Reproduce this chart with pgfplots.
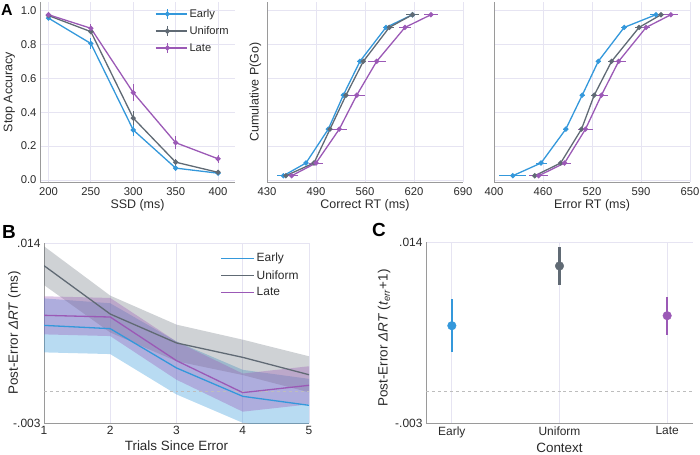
\documentclass[border=0pt]{standalone}
\usepackage{fontspec}
\setmainfont{Liberation Sans}
\usepackage{pgfplots}
\pgfplotsset{compat=1.18}
\definecolor{cEarly}{HTML}{3498DB}
\definecolor{cUni}{HTML}{606A74}
\definecolor{cLate}{HTML}{9B59B6}
\definecolor{cGrid}{HTML}{E6E4F2}
\definecolor{cSpine}{HTML}{9A9A9A}
\definecolor{cText}{HTML}{2A2A2A}
\definecolor{cDash}{HTML}{BDBDBD}

\pgfplotsset{
  base/.style={
    scale only axis,
    axis x line*=bottom, axis y line*=left,
    axis line style={cSpine, line width=0.9bp, -},
    grid=major, major grid style={cGrid, line width=0.9bp},
    major tick length=0pt,
    scaled ticks=false,
    tick label style={font=\fontsize{11.3}{13}\selectfont, text=cText},
    label style={font=\fontsize{12.5}{14}\selectfont, text=cText},
    /pgf/number format/assume math mode=true,
  },
  baseBC/.style={base,
    tick label style={font=\fontsize{12}{14}\selectfont},
    label style={font=\fontsize{13.5}{15}\selectfont},
  },
  lineA/.style={line width=1.3bp, mark=*, mark size=1.9bp, mark options={solid},
    error bars/.cd, y dir=both, y explicit, error mark=none,
    error bar style={line width=1bp}, /pgfplots/.cd},
  lineX/.style={line width=1.3bp, mark=*, mark size=1.9bp, mark options={solid},
    error bars/.cd, x dir=both, x explicit, error mark=none,
    error bar style={line width=1bp}, /pgfplots/.cd},
  dotC/.style={only marks, mark=*, mark size=4.3bp,
    error bars/.cd, y dir=both, y explicit, error mark=none,
    error bar style={line width=2.6bp}, /pgfplots/.cd},
}

\begin{document}
\begin{tikzpicture}
\path[use as bounding box] (0,0) rectangle (700bp,-455bp);

% ---------------- Panel A1
\begin{axis}[base, at={(40bp,-182bp)}, anchor=south west, width=195bp, height=180bp,
  xmin=190, xmax=420, ymin=-0.012, ymax=1.05,
  xtick={200,250,300,350,400}, ytick={0,0.2,0.4,0.6,0.8,1},
  yticklabel style={/pgf/number format/.cd, fixed, fixed zerofill, precision=1},
  xticklabel style={yshift=-2bp},
  xlabel={SSD (ms)}, ylabel={Stop Accuracy},
  xlabel style={yshift=3bp},
  ylabel style={at={(axis description cs:-0.11,0.5)}, anchor=south},
  legend style={at={(rel axis cs:0.59,0.972)}, anchor=north west, draw=none, fill=none,
    font=\fontsize{11.2}{13}\selectfont, text=cText, row sep=3.5bp, inner sep=0pt,
    cells={anchor=west}},
  legend image code/.code={
    \path (0bp,0bp) -- (31bp,0bp);
    \draw[#1, mark=none] (0bp,0bp) -- (23bp,0bp);
    \draw[#1, mark=none, line width=1bp] (11.5bp,-5bp) -- (11.5bp,5bp);
    \fill[#1] (11.5bp,0bp) circle (1.9bp);
  }]
\addplot[cEarly, lineA] coordinates {(200,0.955)+-(0,0.01) (250,0.805)+-(0,0.03) (300,0.295)+-(0,0.035) (350,0.07)+-(0,0.015) (400,0.04)+-(0,0.01)};
\addlegendentry{Early}
\addplot[cUni, lineA] coordinates {(200,0.97)+-(0,0.008) (250,0.875)+-(0,0.015) (300,0.365)+-(0,0.04) (350,0.105)+-(0,0.02) (400,0.045)+-(0,0.01)};
\addlegendentry{Uniform}
\addplot[cLate, lineA] coordinates {(200,0.975)+-(0,0.01) (250,0.895)+-(0,0.025) (300,0.515)+-(0,0.05) (350,0.22)+-(0,0.04) (400,0.125)+-(0,0.025)};
\addlegendentry{Late}
\end{axis}

% ---------------- Panel A2
\begin{axis}[base, at={(267bp,-182bp)}, anchor=south west, width=196bp, height=180bp,
  xmin=430, xmax=690, ymin=-0.012, ymax=1.05,
  xtick={430,495,560,625,690}, xticklabels={430,490,560,620,690},
  ytick={0,0.2,0.4,0.6,0.8,1}, yticklabels={},
  xticklabel style={yshift=-2bp},
  xlabel={Correct RT (ms)}, ylabel={Cumulative P(Go)},
  xlabel style={yshift=3bp},
  ylabel style={at={(axis description cs:-0.012,0.5)}, anchor=south}]
\addplot[cEarly, lineX] coordinates {(451.7,0.025)+-(8,0) (481.7,0.1)+-(3,0) (511.3,0.3)+-(3,0) (531.2,0.5)+-(3,0) (553.3,0.7)+-(4,0) (587.8,0.9)+-(4,0) (623,0.975)+-(4,0)};
\addplot[cUni, lineX] coordinates {(455,0.025)+-(4,0) (492.3,0.1)+-(3,0) (513.6,0.3)+-(3,0) (534.8,0.5)+-(3,0) (557.8,0.7)+-(4,0) (592.2,0.9)+-(6,0) (623,0.975)+-(9,0)};
\addplot[cLate, lineX] coordinates {(462.7,0.025)+-(8,0) (495,0.1)+-(9,0) (525.9,0.3)+-(10,0) (549,0.5)+-(11,0) (575.5,0.7)+-(12,0) (613,0.9)+-(8,0) (647.5,0.975)+-(9,0)};
\end{axis}

% ---------------- Panel A3
\begin{axis}[base, at={(494bp,-182bp)}, anchor=south west, width=196bp, height=180bp,
  xmin=400, xmax=650, ymin=-0.012, ymax=1.05,
  xtick={400,462.5,525,587.5,650}, xticklabels={400,460,520,590,650},
  ytick={0,0.2,0.4,0.6,0.8,1}, yticklabels={},
  xticklabel style={yshift=-2bp},
  xlabel={Error RT (ms)}, xlabel style={yshift=3bp}]
\addplot[cEarly, lineX] coordinates {(424,0.025)+-(17,0) (460,0.1)+-(7,0) (491.6,0.3)+-(3,0) (512.5,0.5)+-(3,0) (533,0.7)+-(3,0) (566,0.9)+-(4,0) (606.5,0.975)+-(7,0)};
\addplot[cUni, lineX] coordinates {(452,0.025)+-(5,0) (485,0.1)+-(4,0) (511.6,0.3)+-(4,0) (527.8,0.5)+-(4,0) (550,0.7)+-(5,0) (585,0.9)+-(5,0) (613,0.975)+-(6,0)};
\addplot[cLate, lineX] coordinates {(457,0.025)+-(12,0) (490,0.1)+-(8,0) (516.7,0.3)+-(10,0) (537,0.5)+-(8,0) (559,0.7)+-(9,0) (594,0.9)+-(5,0) (625.6,0.975)+-(9,0)};
\end{axis}

% ---------------- Panel B
\begin{axis}[baseBC, at={(44bp,-423bp)}, anchor=south west, width=265bp, height=180bp,
  xmin=1, xmax=5, ymin=-0.003, ymax=0.014,
  xtick={1,2,3,4,5}, ytick={-0.003,0.014}, yticklabels={-.003,.014},
  xlabel={Trials Since Error}, ylabel={Post-Error \textit{ΔRT} (ms)},
  xlabel style={yshift=1bp},
  ylabel style={at={(axis description cs:-0.075,0.5)}, anchor=south},
  legend style={at={(rel axis cs:0.665,0.955)}, anchor=north west, draw=none, fill=none,
    font=\fontsize{12}{14}\selectfont, text=cText, row sep=3bp, inner sep=0pt,
    cells={anchor=west}},
  legend image code/.code={\path (0bp,0bp) -- (33bp,0bp); \draw[#1] (0bp,0bp) -- (27bp,0bp);}]
\addplot[draw=none, fill=cEarly, fill opacity=0.35, forget plot] coordinates {(1,0.00877) (2,0.00831) (3,0.0047) (4,0.00202) (5,0.00117) (5,-0.00383) (4,-0.00298) (3,-0.0003) (2,0.00351) (1,0.00367)} --cycle;
\addplot[draw=none, fill=cUni, fill opacity=0.3, forget plot] coordinates {(1,0.01369) (2,0.00903) (3,0.00629) (4,0.00487) (5,0.0033) (5,-0.0001) (4,0.00153) (3,0.00283) (2,0.00555) (1,0.01003)} --cycle;
\addplot[draw=none, fill=cLate, fill opacity=0.35, forget plot] coordinates {(1,0.00897) (2,0.00881) (3,0.00469) (4,0.00167) (5,0.00236) (5,-0.00124) (4,-0.00193) (3,0.00109) (2,0.00521) (1,0.00537)} --cycle;
\addplot[cDash, dashed, line width=0.9bp, forget plot] coordinates {(1,0) (5,0)};
\addplot[cEarly, line width=1.3bp] coordinates {(1,0.00622) (2,0.00591) (3,0.0022) (4,-0.00048) (5,-0.00133)};
\addlegendentry{Early}
\addplot[cUni, line width=1.3bp] coordinates {(1,0.01186) (2,0.00729) (3,0.00456) (4,0.0032) (5,0.00156)};
\addlegendentry{Uniform}
\addplot[cLate, line width=1.3bp] coordinates {(1,0.00717) (2,0.00701) (3,0.00289) (4,-0.00013) (5,0.00056)};
\addlegendentry{Late}
\end{axis}

% ---------------- Panel C
\begin{axis}[baseBC, at={(426bp,-423bp)}, anchor=south west, width=267bp, height=181bp,
  xmin=-0.24, xmax=2.24, ymin=-0.003, ymax=0.014,
  xtick={0,1,2}, xticklabels={Early,Uniform,Late}, ytick={-0.003,0.014}, yticklabels={-.003,.014},
  xlabel={Context}, ylabel={Post-Error \textit{ΔRT} (\textit{t}\textsubscript{\textit{err}}+1)},
  xlabel style={yshift=1bp},
  ylabel style={at={(axis description cs:-0.12,0.47)}, anchor=south}]
\addplot[cDash, dashed, line width=0.9bp] coordinates {(-0.24,0) (2.24,0)};
\addplot[cEarly, dotC] coordinates {(0,0.00614)+-(0,0.0025)};
\addplot[cUni, dotC] coordinates {(1,0.01175)+-(0,0.0018)};
\addplot[cLate, dotC] coordinates {(2,0.00708)+-(0,0.0018)};
\end{axis}

\node[font=\bfseries\fontsize{16}{16}\selectfont, text=black] at (7bp,-10bp) {A};
\node[font=\bfseries\fontsize{19}{19}\selectfont, text=black] at (9bp,-232bp) {B};
\node[font=\bfseries\fontsize{19}{19}\selectfont, text=black] at (379bp,-230bp) {C};
\end{tikzpicture}
\end{document}
